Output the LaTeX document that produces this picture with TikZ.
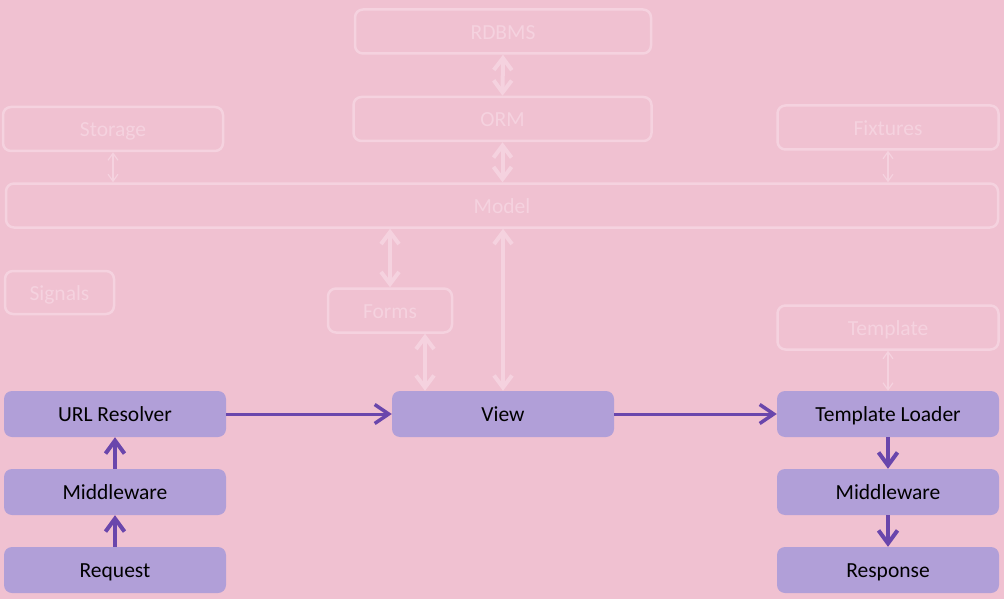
\documentclass[tikz,border=0pt]{standalone}
\usepackage{fontspec}
\setmainfont{Carlito}
\usetikzlibrary{arrows.meta}
\definecolor{bg}{RGB}{240,193,209}
\definecolor{faint}{RGB}{245,210,223}
\definecolor{boxfill}{RGB}{177,159,216}
\definecolor{arr}{RGB}{106,70,172}
\tikzset{
  ghost/.style={draw=faint, line width=2.5pt, rounded corners=8pt, inner sep=0pt, text=faint, font=\fontsize{21.5}{25}\selectfont, text height=16pt, text depth=0.5pt},
  live/.style={fill=boxfill, draw=none, rounded corners=8pt, inner sep=0pt, text=black, font=\fontsize{21.5}{25}\selectfont, text height=16pt, text depth=0.5pt, minimum width=222pt, minimum height=46pt},
  fatghost/.style={draw=faint, line width=4pt, {Straight Barb[length=12pt,width=18pt,line width=4pt]}-{Straight Barb[length=12pt,width=18pt,line width=4pt]}},
  thinghost/.style={draw=faint, line width=1.2pt, {Straight Barb[length=7pt,width=10pt]}-{Straight Barb[length=7pt,width=10pt]}},
  flow/.style={draw=arr, line width=3pt, -{Straight Barb[length=14pt,width=19pt,line width=3.5pt]}},
  vflow/.style={draw=arr, line width=4pt, -{Straight Barb[length=13pt,width=19pt,line width=4pt]}},
}
\begin{document}
\begin{tikzpicture}[x=1pt,y=-1pt]
\fill[bg] (0,0) rectangle (1004,599);
\useasboundingbox (0,0) rectangle (1004,599);
% faded nodes
\node[ghost, minimum width=296pt, minimum height=44pt] (rdbms) at (503,31.5) {RDBMS};
\node[ghost, minimum width=298pt, minimum height=44pt] (orm) at (502.5,119) {ORM};
\node[ghost, minimum width=992pt, minimum height=44pt] (model) at (502,205.5) {Model};
\node[ghost, minimum width=220pt, minimum height=44pt] (storage) at (113,129) {Storage};
\node[ghost, minimum width=221pt, minimum height=44pt] (fixtures) at (888,127.5) {Fixtures};
\node[ghost, minimum width=109pt, minimum height=43pt] (signals) at (59.5,292.5) {Signals};
\node[ghost, minimum width=124pt, minimum height=44pt] (forms) at (390,310.5) {Forms};
\node[ghost, minimum width=221pt, minimum height=44pt] (template) at (888,327.5) {Template};
% live nodes
\node[live] (url) at (115,414) {URL Resolver};
\node[live] (mwl) at (115,492) {Middleware};
\node[live] (req) at (115,570) {Request};
\node[live] (view) at (503,414) {View};
\node[live] (tl) at (888,414) {Template Loader};
\node[live] (mwr) at (888,492) {Middleware};
\node[live] (resp) at (888,570) {Response};
% faded connectors
\draw[fatghost] (rdbms.south) -- (orm.north);
\draw[fatghost] (orm.south) -- (orm.south |- model.north);
\draw[thinghost] (storage.south) -- (storage.south |- model.north);
\draw[thinghost] (fixtures.south) -- (fixtures.south |- model.north);
\draw[fatghost] (forms.north |- model.south) -- (forms.north);
\draw[fatghost] ([xshift=35pt]forms.south) -- ([xshift=35pt]forms.south |- view.north);
\draw[fatghost] (view.north |- model.south) -- (view.north);
\draw[thinghost] (template.south) -- (tl.north);
% flow connectors
\draw[flow] (url.east) -- (view.west);
\draw[flow] (view.east) -- (tl.west);
\draw[vflow] (req.north) -- (mwl.south);
\draw[vflow] (mwl.north) -- (url.south);
\draw[vflow] (tl.south) -- (mwr.north);
\draw[vflow] (mwr.south) -- (resp.north);
\end{tikzpicture}
\end{document}
